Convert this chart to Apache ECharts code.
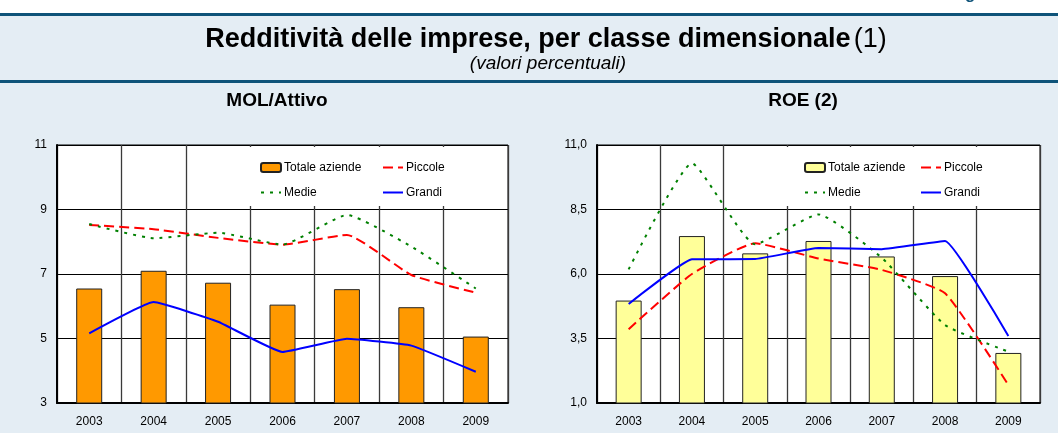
<!DOCTYPE html>
<html>
<head>
<meta charset="utf-8">
<script src="https://cdn.jsdelivr.net/npm/echarts@6/dist/echarts.min.js"></script>
<style>
	html, body { margin: 0; padding: 0; background: #e4edf4; }
	#main { width: 1058px; height: 433px; }
</style>
</head>
<body>
<div id="main"></div>
<script>
// dati
var years = ['2003', '2004', '2005', '2006', '2007', '2008', '2009'];
var legendNames = ['Totale aziende', 'Piccole', 'Medie', 'Grandi'];

var molTotale = [6.55, 7.10, 6.73, 6.05, 6.53, 5.97, 5.06];
var molPiccole = [8.52, 8.39, 8.12, 7.91, 8.21, 6.97, 6.42];
var molMedie = [8.55, 8.11, 8.28, 7.91, 8.83, 7.85, 6.55];
var molGrandi = [5.16, 6.13, 5.52, 4.58, 4.99, 4.78, 3.97];

var roeTotale = [4.97, 7.47, 6.80, 7.28, 6.68, 5.92, 2.94];
var roePiccole = [3.86, 6.00, 7.19, 6.60, 6.16, 5.25, 1.70];
var roeMedie = [6.18, 10.29, 7.15, 8.31, 6.63, 4.02, 2.99];
var roeGrandi = [4.84, 6.57, 6.58, 7.01, 6.96, 7.28, 3.60];

// scala asse y: min, max, passo
var molScale = [3, 11, 2];
var roeScale = [1, 11, 2.5];

var FONT = '"Liberation Sans", Arial, sans-serif';

var myChart = echarts.init(document.getElementById('main'));

/**
 * asse x di un pannello
 */
function makeXAxis(idx) {
	return {
		type: 'category',
		gridIndex: idx,
		data: years,
		boundaryGap: true,
		axisLine: { lineStyle: { color: '#000', width: 2 } },
		axisTick: { show: false },
		axisLabel: { color: '#000', fontSize: 12, fontFamily: FONT, margin: 13 },
		splitLine: { show: true, lineStyle: { color: '#3a3a3a', width: 1.3 } }
	};
}

/**
 * asse y di un pannello
 */
function makeYAxis(idx, scale, decimals) {
	return {
		type: 'value',
		gridIndex: idx,
		min: scale[0],
		max: scale[1],
		interval: scale[2],
		axisLine: { show: true, lineStyle: { color: '#000', width: 2 } },
		axisTick: { show: false },
		axisLabel: {
			color: '#000', fontSize: 12, fontFamily: FONT, margin: 10,
			formatter: function(v) {
				return decimals ? v.toFixed(1).replace('.', ',') : String(v);
			}
		},
		splitLine: { show: true, lineStyle: { color: '#000', width: 1 } }
	};
}

/**
 * serie di un pannello: barre + tre linee
 */
function makeSeries(idx, prefix, barColor, totale, piccole, medie, grandi) {
	return [{
		name: prefix + 'Totale aziende',
		type: 'bar',
		xAxisIndex: idx,
		yAxisIndex: idx,
		data: totale,
		barWidth: 26,
		itemStyle: { color: barColor, borderColor: '#222', borderWidth: 1 }
	}, {
		name: prefix + 'Piccole',
		type: 'line',
		xAxisIndex: idx,
		yAxisIndex: idx,
		data: piccole,
		symbol: 'none',
		smooth: 0.15,
		lineStyle: { color: '#ff0000', width: 2, type: [10, 5] },
		itemStyle: { color: '#ff0000' }
	}, {
		name: prefix + 'Medie',
		type: 'line',
		xAxisIndex: idx,
		yAxisIndex: idx,
		data: medie,
		symbol: 'none',
		smooth: 0.15,
		lineStyle: { color: '#008000', width: 2, type: [3, 6] },
		itemStyle: { color: '#008000' }
	}, {
		name: prefix + 'Grandi',
		type: 'line',
		xAxisIndex: idx,
		yAxisIndex: idx,
		data: grandi,
		symbol: 'none',
		smooth: 0.1,
		lineStyle: { color: '#0000ff', width: 2 },
		itemStyle: { color: '#0000ff' }
	}];
}

/**
 * legenda 2x2 con fondo bianco dentro l'area del grafico
 */
function makeLegend(prefix, left, col1Width) {
	return {
		left: left,
		top: 147,
		width: 215,
		orient: 'horizontal',
		backgroundColor: '#fff',
		padding: [13, 8, 6, 20],
		itemGap: 10,
		itemWidth: 20,
		itemHeight: 9,
		selectedMode: false,
		data: legendNames.map(function(n, i) {
			var item = {
				name: prefix + n,
				textStyle: { width: i % 2 === 0 ? col1Width : 55 }
			};
			// niente simbolo sulle linee, solo il tratto
			if (i > 0) item.itemStyle = { opacity: 0 };
			return item;
		}),
		formatter: function(name) { return name.replace(prefix, ''); },
		textStyle: { color: '#000', fontSize: 12, fontFamily: FONT, lineHeight: 15, padding: [0, 0, 0, -2] }
	};
}

var option = {
	backgroundColor: '#e4edf4',
	animation: false,
	graphic: [
		{ type: 'rect', shape: { x: 0, y: 0, width: 1058, height: 13 }, style: { fill: '#fff' } },
		{ type: 'text', style: { text: 'Figura', x: 950, y: 3, verticalAlign: 'bottom', fill: '#0e5379',
			font: 'bold 17px ' + FONT } },
		{ type: 'rect', shape: { x: 0, y: 13, width: 1058, height: 3 }, style: { fill: '#0e5379' } },
		{ type: 'rect', shape: { x: 0, y: 80, width: 1058, height: 3 }, style: { fill: '#0e5379' } },
		{
			type: 'text',
			style: {
				x: 546, y: 40, align: 'center', verticalAlign: 'middle',
				text: '{b|Redditività delle imprese, per classe dimensionale} {n|(1)}',
				rich: {
					b: { font: 'bold 27px ' + FONT, fill: '#000' },
					n: { font: '27px ' + FONT, fill: '#000' }
				}
			}
		},
		{ type: 'text', style: { x: 548, y: 64, align: 'center', verticalAlign: 'middle',
			text: '(valori percentuali)', font: 'italic 19px ' + FONT, fill: '#000' } },
		{ type: 'text', style: { x: 277, y: 101, align: 'center', verticalAlign: 'middle',
			text: 'MOL/Attivo', font: 'bold 19px ' + FONT, fill: '#000' } },
		{ type: 'text', style: { x: 803, y: 101, align: 'center', verticalAlign: 'middle',
			text: 'ROE (2)', font: 'bold 19px ' + FONT, fill: '#000' } }
	],
	grid: [{
		left: 57, top: 145, width: 451, height: 258,
		show: true, backgroundColor: '#fff', borderColor: '#000', borderWidth: 1
	}, {
		left: 597, top: 145, width: 443, height: 258,
		show: true, backgroundColor: '#fff', borderColor: '#000', borderWidth: 1
	}],
	legend: [makeLegend('mol_', 240, 88), makeLegend('roe_', 784, 82)],
	xAxis: [makeXAxis(0), makeXAxis(1)],
	yAxis: [makeYAxis(0, molScale, false), makeYAxis(1, roeScale, true)],
	series: makeSeries(0, 'mol_', '#ff9900', molTotale, molPiccole, molMedie, molGrandi)
		.concat(makeSeries(1, 'roe_', '#ffff99', roeTotale, roePiccole, roeMedie, roeGrandi))
};

myChart.setOption(option);
</script>
</body>
</html>
